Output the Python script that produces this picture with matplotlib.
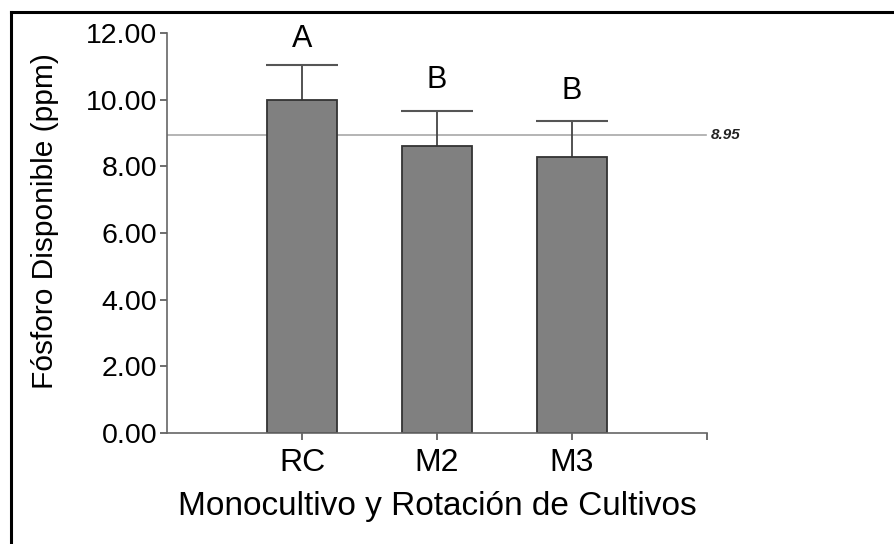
import matplotlib.pyplot as plt
from matplotlib.lines import Line2D

plt.rcParams['font.family'] = ['Liberation Sans', 'DejaVu Sans']

categories = ["RC", "M2", "M3"]
means = [9.98, 8.60, 8.28]
errors = [1.07, 1.06, 1.08]
letters = ["A", "B", "B"]
letter_y = [11.83, 10.58, 10.26]
overall_mean = 8.95
yticks = [0, 2, 4, 6, 8, 10, 12]

fig = plt.figure(figsize=(8.95, 5.44), dpi=100)
ax = fig.add_axes([0.1866, 0.204, 0.6034, 0.7353])

x = [1, 2, 3]
bar_w = 0.52
cap_w = 0.535
ax.axhline(overall_mean, color="#a8a8a8", lw=1.2, zorder=1, xmax=0.998)
ax.bar(x, means, width=bar_w, color="#808080", edgecolor="#333333", lw=1.3, zorder=2)

# upper-only error bars
tops = [m + e for m, e in zip(means, errors)]
ax.vlines(x, means, tops, color="#444444", lw=1.3, zorder=1)
ax.hlines(tops, [xi - cap_w / 2 for xi in x], [xi + cap_w / 2 for xi in x],
          color="#555555", lw=1.5, zorder=1)

for xi, lab, ly in zip(x, letters, letter_y):
    ax.text(xi, ly, lab, ha="center", va="center", fontsize=22)

ax.text(4.03, overall_mean, "8.95", ha="left", va="center", fontsize=11,
        fontweight="bold", fontstyle="italic", color="#222222")

ax.set_xlim(0, 4)
ax.set_ylim(0, 12)
ax.set_yticks(yticks)
ax.set_yticklabels([f"{v:.2f}" for v in yticks])
ax.set_xticks([1, 2, 3, 4])
ax.set_xticklabels(categories + [""])
ax.tick_params(axis="both", color="#555555", length=5, width=1.2)
ax.tick_params(axis="x", labelsize=23, pad=6)
ax.tick_params(axis="y", labelsize=20.5, pad=2)

for s in ["top", "right"]:
    ax.spines[s].set_visible(False)
for s in ["left", "bottom"]:
    ax.spines[s].set_color("#666666")
    ax.spines[s].set_linewidth(1.2)

ax.set_ylabel("Fósforo Disponible (ppm)", fontsize=21.5)
ax.yaxis.set_label_coords(-0.2, 0.53)
ax.set_xlabel("Monocultivo y Rotación de Cultivos", fontsize=24, labelpad=9)

# partial frame around figure (left and top edges)
fig.add_artist(Line2D([11 / 895, 11 / 895], [0, 1 - 12 / 544], color="black", lw=2.2,
                      transform=fig.transFigure))
fig.add_artist(Line2D([11 / 895, 1], [1 - 12 / 544, 1 - 12 / 544], color="black", lw=2.2,
                      transform=fig.transFigure))

fig.savefig("out.png", dpi=100)
